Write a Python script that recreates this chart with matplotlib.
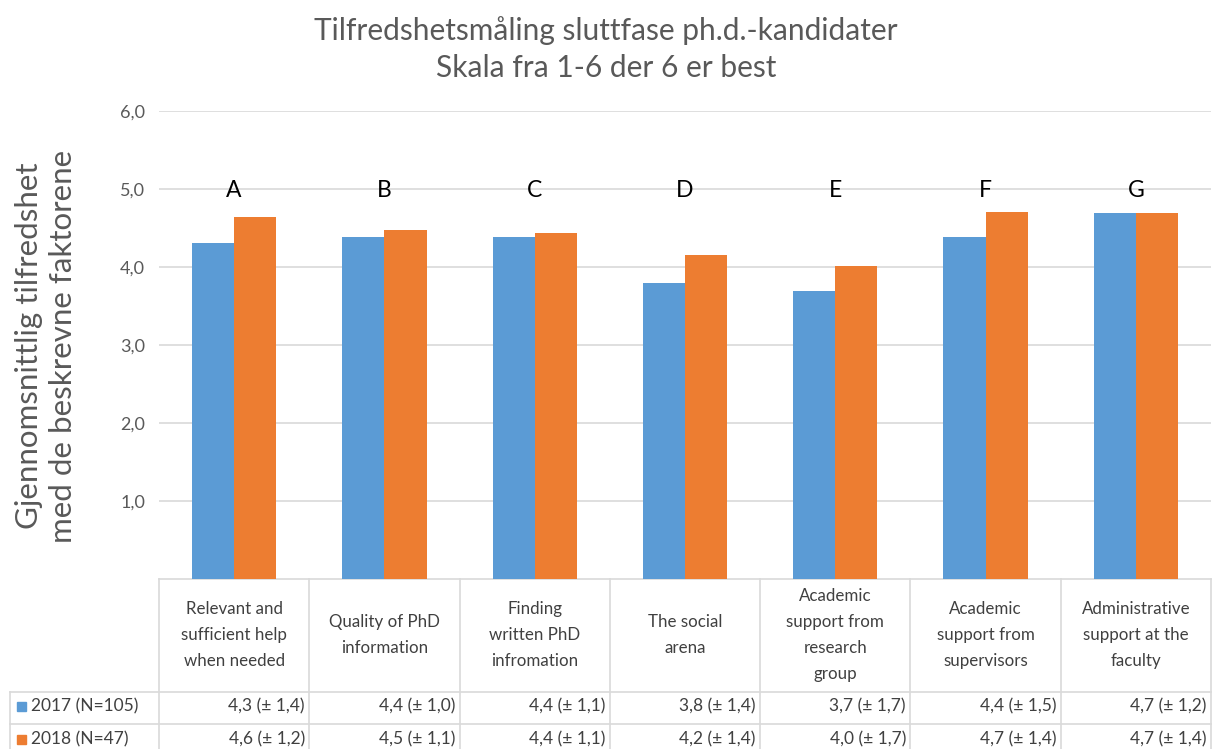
import matplotlib
matplotlib.use("Agg")
import matplotlib.pyplot as plt
import matplotlib.transforms as mtransforms
from matplotlib.patches import Rectangle
from matplotlib.lines import Line2D

plt.rcParams['font.family'] = ['Lato', 'DejaVu Sans']

# ---- data ----
categories = [
    "Relevant and\nsufficient help\nwhen needed",
    "Quality of PhD\ninformation",
    "Finding\nwritten PhD\ninfromation",
    "The social\narena",
    "Academic\nsupport from\nresearch\ngroup",
    "Academic\nsupport from\nsupervisors",
    "Administrative\nsupport at the\nfaculty",
]
letters = ["A", "B", "C", "D", "E", "F", "G"]
series_names = ["2017 (N=105)", "2018 (N=47)"]
values_2017 = [4.31, 4.39, 4.39, 3.79, 3.69, 4.39, 4.69]
values_2018 = [4.64, 4.48, 4.44, 4.15, 4.01, 4.71, 4.69]
table_2017 = ["4,3 (± 1,4)", "4,4 (± 1,0)", "4,4 (± 1,1)", "3,8 (± 1,4)",
              "3,7 (± 1,7)", "4,4 (± 1,5)", "4,7 (± 1,2)"]
table_2018 = ["4,6 (± 1,2)", "4,5 (± 1,1)", "4,4 (± 1,1)", "4,2 (± 1,4)",
              "4,0 (± 1,7)", "4,7 (± 1,4)", "4,7 (± 1,4)"]
yticks = [1, 2, 3, 4, 5, 6]
ytick_labels = ["1,0", "2,0", "3,0", "4,0", "5,0", "6,0"]
title = "Tilfredshetsmåling sluttfase ph.d.-kandidater\nSkala fra 1-6 der 6 er best"
ylabel = "Gjennomsnittlig tilfredshet\nmed de beskrevne faktorene"

colors = ["#5B9BD5", "#ED7D31"]
grid_c = "#D9D9D9"
text_c = "#595959"
table_c = "#404040"

W, H = 1213, 749
fig = plt.figure(figsize=(W / 100, H / 100), dpi=100)

def fx(x):
    return x / W

def fy(y):
    return 1 - y / H

ax_left, ax_right, ax_top, ax_bottom = 159, 1211, 111, 579.3
ax = fig.add_axes([fx(ax_left), fy(ax_bottom), fx(ax_right - ax_left), (ax_bottom - ax_top) / H])

n = len(categories)
xs = list(range(n))
bw = 0.28
ax.bar([x - bw / 2 for x in xs], values_2017, width=bw, color=colors[0], zorder=3)
ax.bar([x + bw / 2 for x in xs], values_2018, width=bw, color=colors[1], zorder=3)

ax.set_xlim(-0.5, n - 0.5)
ax.set_ylim(0, 6)
ax.set_yticks(yticks)
ax.set_yticklabels(ytick_labels, color=text_c, fontsize=13)
ax.tick_params(axis='y', length=0, pad=10)
ax.set_xticks([])
ax.yaxis.grid(True, color=grid_c, lw=1.2, zorder=0)
for s in ["left", "right", "top"]:
    ax.spines[s].set_visible(False)
ax.spines["bottom"].set_color(grid_c)
ax.spines["bottom"].set_linewidth(1.2)

for x, l in zip(xs, letters):
    ax.text(x, 4.98, l, ha='center', va='center', fontsize=16.5, color='black', zorder=4)

fig.text(fx(606), fy(49), title, ha='center', va='center', fontsize=21.5,
         color=text_c, linespacing=1.4)
fig.text(fx(46), fy(346), ylabel, ha='center', va='center', rotation=90,
         fontsize=22.5, color=text_c, linespacing=1.25)

# ---- data table ----
bt = mtransforms.blended_transform_factory(ax.transData, fig.transFigure)
row1_y, row2_y = 692, 724
lw = 1.2
for i in range(n + 1):
    fig.add_artist(Line2D([i - 0.5, i - 0.5], [fy(ax_bottom), 0], transform=bt,
                          color=grid_c, lw=lw))
for yy in (row1_y, row2_y):
    fig.add_artist(Line2D([fx(10), fx(ax_right)], [fy(yy), fy(yy)],
                          transform=fig.transFigure, color=grid_c, lw=lw))
fig.add_artist(Line2D([fx(10), fx(10)], [fy(row1_y), 0],
                      transform=fig.transFigure, color=grid_c, lw=lw))

for x, c in zip(xs, categories):
    fig.text(x, fy(635), c, transform=bt, ha='center', va='center',
             fontsize=12.2, color=table_c, linespacing=1.78)

for x, a, b in zip(xs, table_2017, table_2018):
    fig.text(x + 0.47, fy(row1_y + 14), a, transform=bt, ha='right', va='center',
             fontsize=12.5, color=table_c)
    fig.text(x + 0.47, fy(row2_y + 15), b, transform=bt, ha='right', va='center',
             fontsize=12.5, color=table_c)

for k, (name, yy) in enumerate(zip(series_names, (row1_y + 14, row2_y + 15))):
    fig.add_artist(Rectangle((fx(17), fy(yy + 5)), fx(9), 9 / H,
                             transform=fig.transFigure, color=colors[k]))
    fig.text(fx(31), fy(yy), name, ha='left', va='center', fontsize=12.5, color=table_c)

fig.savefig("out.png", dpi=100)
